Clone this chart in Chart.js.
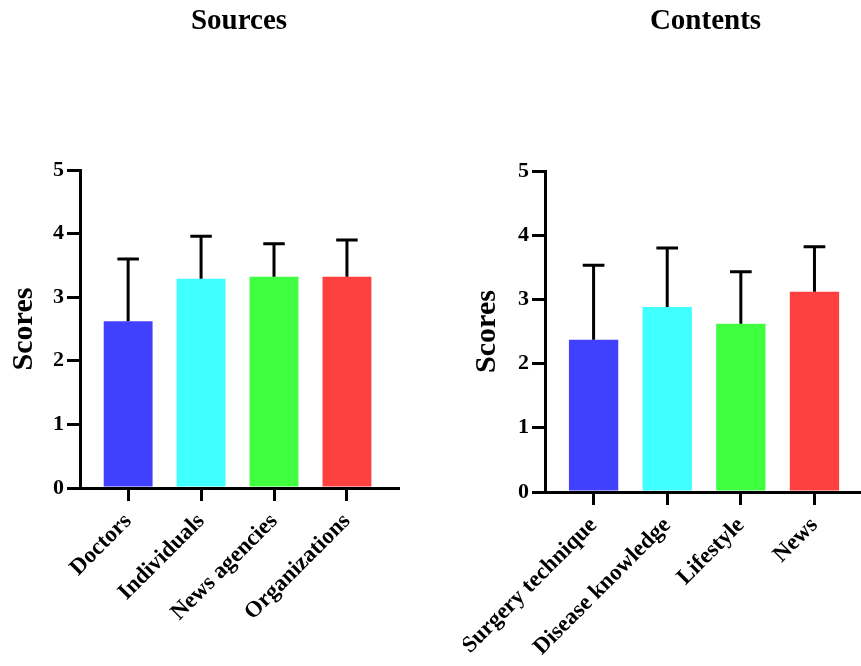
<!DOCTYPE html>
<html>
<head>
<meta charset="utf-8">
<script src="https://cdn.jsdelivr.net/npm/chart.js@4.4.0/dist/chart.umd.min.js"></script>
<style>
    html, body { margin: 0; padding: 0; background: #fff; overflow: hidden; width: 861px; height: 666px; }
    canvas { position: absolute; top: 0; }
    #sourcesChart { left: 0; }
    #contentsChart { left: 463px; }
</style>
</head>
<body>
<canvas id="sourcesChart" width="430" height="666"></canvas>
<canvas id="contentsChart" width="420" height="666"></canvas>
<script>
// Data (mean and SD per group)
const sourceLabels = ['Doctors', 'Individuals', 'News agencies', 'Organizations'];
const sourceMeans = [2.62, 3.29, 3.32, 3.32];
const sourceSD = [0.98, 0.67, 0.52, 0.58];

const contentLabels = ['Surgery technique', 'Disease knowledge', 'Lifestyle', 'News'];
const contentMeans = [2.37, 2.88, 2.62, 3.12];
const contentSD = [1.16, 0.92, 0.81, 0.70];

const yTicks = [0, 1, 2, 3, 4, 5];
const barColors = ['#4040ff', '#40ffff', '#40ff40', '#ff4040'];

window.onload = function() {
    Chart.defaults.font.family = '"Liberation Serif", "Times New Roman", serif';
    Chart.defaults.color = '#000';

    // Draws the upper SD whisker with a cap over every bar
    const errorBarPlugin = {
        id: 'errorBars',
        afterDatasetsDraw(chart) {
            const ctx = chart.ctx;
            const yScale = chart.scales.y;
            const ds = chart.data.datasets[0];
            const meta = chart.getDatasetMeta(0);
            ctx.save();
            ctx.strokeStyle = '#000';
            ctx.lineWidth = 3;
            meta.data.forEach((bar, i) => {
                const top = yScale.getPixelForValue(ds.data[i].y + ds.sd[i]);
                const half = bar.width * 0.22;
                ctx.beginPath();
                ctx.moveTo(bar.x, bar.y);
                ctx.lineTo(bar.x, top);
                ctx.moveTo(bar.x - half, top);
                ctx.lineTo(bar.x + half, top);
                ctx.stroke();
            });
            ctx.restore();
        }
    };

    const makeChart = (id, title, labels, means, sd, opts) => {
        const ctx = document.getElementById(id).getContext('2d');
        return new Chart(ctx, {
            type: 'bar',
            data: {
                datasets: [{
                    data: means.map((v, i) => ({x: i, y: v})),
                    sd: sd,
                    backgroundColor: barColors,
                    borderWidth: 0,
                    barPercentage: 0.67,
                    categoryPercentage: 1
                }]
            },
            plugins: [errorBarPlugin],
            options: {
                responsive: false,
                animation: false,
                layout: { padding: { left: 0, right: opts.padRight, top: 0, bottom: 0 } },
                plugins: {
                    legend: { display: false },
                    tooltip: { enabled: false },
                    title: {
                        display: true,
                        text: title,
                        fullSize: false,
                        font: { size: 29, weight: 'bold' },
                        color: '#000',
                        padding: { top: 4, bottom: opts.plotTop - 4 - 34.8 }
                    }
                },
                scales: {
                    x: {
                        type: 'linear',
                        min: -0.66,
                        max: 3.7,
                        offset: false,
                        afterFit: (scale) => {
                            // keep the rotated labels from pushing the plot area around
                            scale.height = opts.xHeight;
                            scale.paddingLeft = 0;
                            scale.paddingRight = 0;
                        },
                        afterBuildTicks: (scale) => {
                            scale.ticks = labels.map((l, i) => ({value: i}));
                        },
                        border: { display: true, color: '#000', width: 3 },
                        grid: { offset: false, drawOnChartArea: false, drawTicks: true, tickLength: 13, color: '#000', lineWidth: 3 },
                        ticks: {
                            minRotation: 45,
                            maxRotation: 45,
                            padding: 7,
                            autoSkip: false,
                            font: { size: 23, weight: 'bold' },
                            color: '#000',
                            callback: (v) => labels[v]
                        }
                    },
                    y: {
                        min: yTicks[0],
                        max: yTicks[yTicks.length - 1],
                        afterFit: (scale) => { scale.width = opts.yWidth; },
                        border: { display: true, color: '#000', width: 3 },
                        grid: { drawOnChartArea: false, drawTicks: true, tickLength: 13, color: '#000', lineWidth: 3 },
                        ticks: {
                            stepSize: 1,
                            padding: 3,
                            font: { size: 22, weight: 'bold' },
                            color: '#000'
                        },
                        title: {
                            display: true,
                            text: 'Scores',
                            font: { size: 30, weight: 'bold' },
                            color: '#000',
                            padding: { top: 6, bottom: 0 }
                        }
                    }
                }
            }
        });
    };

    const sourcesChart = makeChart('sourcesChart', 'Sources', sourceLabels, sourceMeans, sourceSD,
        { padRight: 32, plotTop: 170, xHeight: 178, yWidth: 80 });
    const contentsChart = makeChart('contentsChart', 'Contents', contentLabels, contentMeans, contentSD,
        { padRight: 17, plotTop: 171, xHeight: 174, yWidth: 82 });
};
</script>
</body>
</html>
